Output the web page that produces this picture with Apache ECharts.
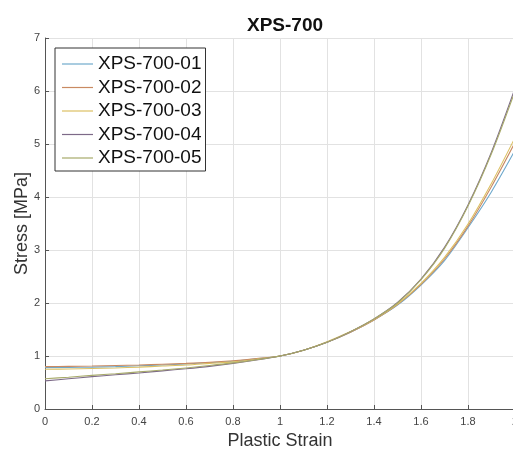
<!DOCTYPE html>
<html>
<head>
<meta charset="utf-8">
<script src="https://cdn.jsdelivr.net/npm/echarts@6/dist/echarts.min.js"></script>
<style>html,body{margin:0;padding:0;background:#fff;}#c{width:513px;height:455px;}</style>
</head>
<body>
<div id="c"></div>
<script>
var strain = [0,0.1,0.2,0.3,0.4,0.5,0.6,0.7,0.8,0.9,1.0,1.1,1.2,1.3,1.4,1.5,1.6,1.7,1.8,1.9,2.0];
var names = ['XPS-700-01','XPS-700-02','XPS-700-03','XPS-700-04','XPS-700-05'];
var s01 = [0.78,0.785,0.79,0.80,0.815,0.83,0.85,0.875,0.90,0.945,1.0,1.11,1.26,1.45,1.68,1.96,2.34,2.80,3.42,4.10,4.88];
var s02 = [0.80,0.805,0.81,0.82,0.83,0.845,0.86,0.88,0.91,0.95,1.0,1.11,1.26,1.45,1.68,1.97,2.35,2.83,3.45,4.20,5.03];
var s03 = [0.75,0.755,0.765,0.775,0.79,0.81,0.83,0.86,0.89,0.94,1.0,1.11,1.27,1.46,1.69,1.98,2.37,2.86,3.49,4.26,5.12];
var s04 = [0.53,0.57,0.61,0.645,0.68,0.72,0.76,0.805,0.86,0.925,1.0,1.11,1.26,1.46,1.70,2.01,2.45,3.05,3.85,4.85,6.05];
var s05 = [0.57,0.60,0.635,0.665,0.70,0.735,0.775,0.82,0.87,0.93,1.0,1.11,1.26,1.46,1.70,2.00,2.44,3.03,3.83,4.82,6.00];
var values = [s01,s02,s03,s04,s05];
var colors = ['#6fa9cc','#c98a62','#dcc062','#7d6a88','#a7aa6a'];

function pairs(v){ return strain.map(function(x,i){ return [x, v[i]]; }); }

var series = names.map(function(n,i){
  return {
    name: n, type: 'line', data: pairs(values[i]), smooth: 0.3,
    symbol: 'none', showSymbol: false,
    lineStyle: { color: colors[i], width: 1.1 },
    itemStyle: { color: colors[i] }
  };
});

var chart = echarts.init(document.getElementById('c'), null, {renderer:'canvas'});
var FONT = '"Liberation Sans", Arial, sans-serif';
chart.setOption({
  animation: false,
  backgroundColor: '#fff',
  title: {
    text: 'XPS-700', left: 280, textAlign: 'center', top: 11,
    textStyle: { fontFamily: FONT, fontSize: 19, fontWeight: 'bold', color: '#111' }
  },
  legend: {
    data: names, orient: 'vertical', left: 55, top: 48,
    icon: 'rect',
    padding: [6, 4, 3, 7], itemGap: 3.5, itemWidth: 31, itemHeight: 1.2,
    backgroundColor: '#fff', borderColor: '#333', borderWidth: 1, borderRadius: 0,
    textStyle: { fontFamily: FONT, fontSize: 19, color: '#111', lineHeight: 20 }
  },
  grid: { left: 45, top: 38, width: 470, height: 371, containLabel: false, outerBoundsMode: 'none' },
  xAxis: {
    type: 'value', min: 0, max: 2, interval: 0.2,
    name: 'Plastic Strain', nameLocation: 'middle', nameGap: 21,
    nameTextStyle: { fontFamily: FONT, fontSize: 18, color: '#333' },
    axisLine: { lineStyle: { color: '#555', width: 1 } },
    axisTick: { inside: true, length: 4, lineStyle: { color: '#555' } },
    axisLabel: { fontFamily: FONT, fontSize: 11, color: '#444', margin: 7, hideOverlap: false,
      showMaxLabel: true, showMinLabel: true,
      formatter: function(v){ return String(Math.round(v*10)/10); } },
    splitLine: { show: true, lineStyle: { color: '#e2e2e2', width: 1 } }
  },
  yAxis: {
    type: 'value', min: 0, max: 7, interval: 1,
    name: 'Stress [MPa]', nameLocation: 'middle', nameGap: 14, nameMoveOverlap: false,
    nameTextStyle: { fontFamily: FONT, fontSize: 18, color: '#333' },
    axisLine: { show: true, lineStyle: { color: '#555', width: 1 } },
    axisTick: { show: true, inside: true, length: 4, lineStyle: { color: '#555' } },
    axisLabel: { fontFamily: FONT, fontSize: 11, color: '#444', margin: 5 },
    splitLine: { show: true, lineStyle: { color: '#e2e2e2', width: 1 } }
  },
  series: series
});
</script>
</body>
</html>
